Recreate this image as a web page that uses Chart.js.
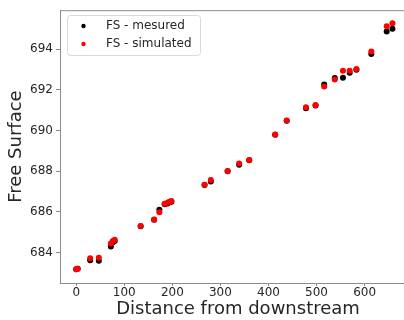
<!DOCTYPE html>
<html>
<head>
<meta charset="utf-8">
<script src="https://cdn.jsdelivr.net/npm/chart.js@4"></script>
<style>
  html, body { margin: 0; padding: 0; background: #fff; overflow: hidden; }
  #wrap { width: 404px; height: 320px; overflow: hidden; }
</style>
</head>
<body>
<div id="wrap"><canvas id="grafico" width="420" height="320"></canvas></div>
<script>
// distance from downstream (shared by both series)
const distance = [0, 3, 29, 47, 72, 76, 80, 134, 162, 173, 184, 190, 194, 198, 267, 280,
    315, 339, 360, 414, 438, 478, 498, 516, 538, 555, 569, 583, 614, 646, 658];
const fsMesured = [683.17, 683.2, 683.62, 683.59, 684.29, 684.5, 684.56, 685.29, 685.61, 686.1,
    686.37, 686.41, 686.47, 686.5, 687.32, 687.49, 687.99, 688.31, 688.54, 689.79, 690.47,
    691.09, 691.23, 692.26, 692.58, 692.59, 692.84, 692.98, 693.76, 694.86, 695.0];
const fsSimulated = [683.17, 683.2, 683.72, 683.74, 684.44, 684.57, 684.62, 685.3, 685.62, 685.98,
    686.39, 686.44, 686.5, 686.53, 687.33, 687.56, 688.0, 688.37, 688.55, 689.8, 690.49,
    691.14, 691.25, 692.16, 692.5, 692.93, 692.93, 693.02, 693.88, 695.12, 695.27];
const xTicks = [0, 100, 200, 300, 400, 500, 600];
const yTicks = [684, 686, 688, 690, 692, 694];
const seriesNames = ['FS - mesured', 'FS - simulated'];

const FONT = 'DejaVu Sans';
const TXT = '#262626';
const SPINE = '#8c8c8c';

function toPoints(ys) {
    return distance.map((d, i) => ({ x: d, y: ys[i] }));
}

// top spine + legend inside the axes, like matplotlib
const framePlugin = {
    id: 'frame',
    afterDraw(chart) {
        const ctx = chart.ctx;
        const a = chart.chartArea;
        ctx.save();
        ctx.strokeStyle = SPINE;
        ctx.lineWidth = 1;
        ctx.beginPath();
        ctx.moveTo(a.left, a.top + 0.5);
        ctx.lineTo(a.right + 20, a.top + 0.5);
        ctx.stroke();

        // legend box
        const bx = 67, by = 15, bw = 133, bh = 40;
        ctx.fillStyle = 'rgba(255,255,255,0.8)';
        ctx.strokeStyle = '#d9d9d9';
        ctx.beginPath();
        ctx.roundRect(bx + 0.5, by + 0.5, bw, bh, 3);
        ctx.fill();
        ctx.stroke();

        const colors = ['#000000', '#ff0000'];
        ctx.font = '12px "' + FONT + '"';
        ctx.textBaseline = 'middle';
        ctx.textAlign = 'left';
        seriesNames.forEach((name, i) => {
            const y = 25.5 + i * 18;
            ctx.fillStyle = colors[i];
            ctx.beginPath();
            ctx.arc(83.5, y + 0.5, 2.2, 0, Math.PI * 2);
            ctx.fill();
            ctx.fillStyle = TXT;
            ctx.fillText(name, 106, y);
        });
        ctx.restore();
    }
};

document.addEventListener("DOMContentLoaded", function() {
    const ctx = document.getElementById('grafico').getContext('2d');
    new Chart(ctx, {
        type: 'scatter',
        data: {
            datasets: [{
                label: seriesNames[0],
                data: toPoints(fsMesured),
                backgroundColor: '#000000',
                borderColor: '#000000',
                borderWidth: 0,
                pointRadius: 3,
                order: 2
            }, {
                label: seriesNames[1],
                data: toPoints(fsSimulated),
                backgroundColor: '#ff0000',
                borderColor: '#ff0000',
                borderWidth: 0,
                pointRadius: 3,
                order: 1
            }]
        },
        options: {
            responsive: false,
            animation: false,
            layout: { padding: { top: 8, right: 0, left: 0, bottom: 0 } },
            plugins: {
                legend: { display: false },
                tooltip: { enabled: false }
            },
            scales: {
                x: {
                    type: 'linear',
                    min: -33.8,
                    max: 707,
                    afterBuildTicks: (s) => { s.ticks = xTicks.map(v => ({ value: v })); },
                    afterFit: (s) => { s.height = 37; },
                    ticks: { color: TXT, font: { family: FONT, size: 12 }, padding: 0 },
                    grid: { display: true, drawOnChartArea: false, drawTicks: true, tickLength: 3, color: SPINE },
                    border: { display: true, color: SPINE, width: 1 },
                    title: {
                        display: true,
                        text: 'Distance from downstream',
                        color: TXT,
                        font: { family: FONT, size: 18 },
                        padding: { top: 0, bottom: 0 }
                    }
                },
                y: {
                    type: 'linear',
                    min: 682.5,
                    max: 695.91,
                    afterBuildTicks: (s) => { s.ticks = yTicks.map(v => ({ value: v })); },
                    afterFit: (s) => { s.width = 60; },
                    ticks: { color: TXT, font: { family: FONT, size: 12 }, padding: 3 },
                    grid: { display: true, drawOnChartArea: false, drawTicks: true, tickLength: 4, color: SPINE },
                    border: { display: true, color: SPINE, width: 1 },
                    title: {
                        display: true,
                        text: 'Free Surface',
                        color: TXT,
                        font: { family: FONT, size: 18 },
                        padding: { top: 6, bottom: 0 }
                    }
                }
            }
        },
        plugins: [framePlugin]
    });
});
</script>
</body>
</html>
